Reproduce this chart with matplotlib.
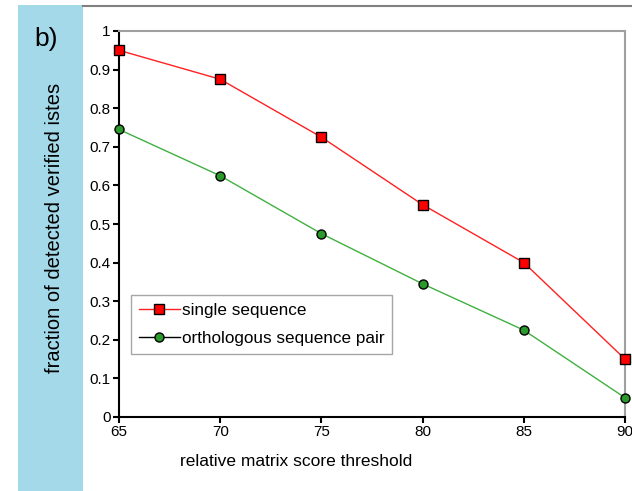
import matplotlib.pyplot as plt
from matplotlib.patches import Rectangle
from matplotlib.lines import Line2D

# score thresholds and fraction of verified sites detected
thresholds = [65, 70, 75, 80, 85, 90]
single_seq = [0.95, 0.875, 0.725, 0.55, 0.40, 0.15]
ortho_pair = [0.745, 0.625, 0.475, 0.345, 0.225, 0.05]

y_ticks = [0, 0.1, 0.2, 0.3, 0.4, 0.5, 0.6, 0.7, 0.8, 0.9, 1]
y_tick_labels = ['0', '0.1', '0.2', '0.3', '0.4', '0.5', '0.6', '0.7', '0.8', '0.9', '1']

plt.rcParams['font.family'] = ['Liberation Sans', 'DejaVu Sans']

fig = plt.figure(figsize=(6.32, 4.91), dpi=100)
W, H = 632, 491

# light blue side panel holding the panel letter and y label
fig.patches.append(Rectangle((18 / W, 0), (83 - 18) / W, 1 - 5 / H,
                             transform=fig.transFigure, facecolor='#a3d9e9',
                             edgecolor='none', zorder=0))
fig.add_artist(Line2D([83 / W, 1], [1 - 6 / H, 1 - 6 / H], transform=fig.transFigure,
                      color='#808080', linewidth=1.5))
fig.text(46 / W, 1 - 39 / H, 'b)', fontsize=19, ha='center', va='center')
fig.text(55 / W, 1 - 228 / H, 'fraction of detected verified istes', fontsize=14.5,
         rotation=90, ha='center', va='center')
fig.text(296 / W, 1 - 462 / H, 'relative matrix score threshold', fontsize=12.5,
         ha='center', va='center')

ax = fig.add_axes([119 / W, 1 - 417 / H, (625 - 119) / W, (417 - 31) / H])

ax.plot(thresholds, single_seq, color='#ff2020', linewidth=1, marker='s',
        markersize=7.5, markerfacecolor='#ff0000', markeredgecolor='black',
        markeredgewidth=1, label='single sequence', clip_on=False, zorder=3)
ax.plot(thresholds, ortho_pair, color='#40b040', linewidth=1, marker='o',
        markersize=6.5, markerfacecolor='#2a9a2a', markeredgecolor='black',
        markeredgewidth=1, label='orthologous sequence pair', clip_on=False, zorder=3)

ax.set_xlim(65, 90)
ax.set_ylim(0, 1)
ax.set_xticks(thresholds)
ax.set_yticks(y_ticks)
ax.set_yticklabels(y_tick_labels)
ax.tick_params(direction='out', length=4, width=1.5, labelsize=11, pad=2)

for side in ['left', 'bottom']:
    ax.spines[side].set_linewidth(1.5)
    ax.spines[side].set_color('black')
for side in ['top', 'right']:
    ax.spines[side].set_linewidth(1.5)
    ax.spines[side].set_color('#a0a0a0')

# legend keeps the black connector on the second entry
handles = [
    Line2D([], [], color='#ff2020', linewidth=1, marker='s', markersize=7.5,
           markerfacecolor='#ff0000', markeredgecolor='black'),
    Line2D([], [], color='black', linewidth=1, marker='o', markersize=6.5,
           markerfacecolor='#2a9a2a', markeredgecolor='black'),
]
leg = ax.legend(handles, ['single sequence', 'orthologous sequence pair'],
                loc='upper left', bbox_to_anchor=(0.024, 0.315), fontsize=12.3,
                frameon=True, fancybox=False, handlelength=2.4, handletextpad=0.1,
                borderpad=0.45, labelspacing=0.75, borderaxespad=0)
leg.get_frame().set_edgecolor('#909090')
leg.get_frame().set_linewidth(1)

fig.savefig('out.png', dpi=100)
